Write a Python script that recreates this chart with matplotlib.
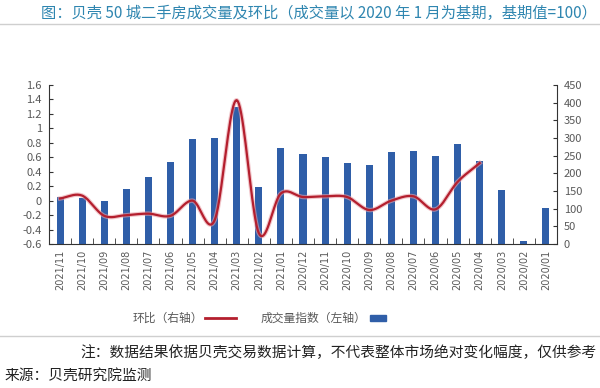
import numpy as np
import matplotlib
matplotlib.use('Agg')
import matplotlib.pyplot as plt
from matplotlib.lines import Line2D
from matplotlib.patches import Rectangle

plt.rcParams['font.family'] = ['Noto Sans CJK SC', 'DejaVu Sans']

months = ['2020/01', '2020/02', '2020/03', '2020/04', '2020/05', '2020/06',
          '2020/07', '2020/08', '2020/09', '2020/10', '2020/11', '2020/12',
          '2021/01', '2021/02', '2021/03', '2021/04', '2021/05', '2021/06',
          '2021/07', '2021/08', '2021/09', '2021/10', '2021/11']
# 成交量指数 (2020/01 = 100)
volume = [101, 9, 154, 234, 282, 248, 264, 260, 223, 230, 245, 254,
          272, 161, 389, 299, 297, 233, 191, 155, 121, 130, 133]
# 环比, starts 2020/04
mom = [0.52, 0.26, -0.12, 0.06, 0.0, -0.13, 0.05, 0.06, 0.05,
       0.10, -0.45, 1.39, -0.27, 0.0, -0.21, -0.18, -0.20, -0.21, 0.07, 0.03]
mom_start = 3

blue = '#2f5ea8'
red = '#b41f2e'
grey = '#595959'


def catmull_rom(x, y, n=20):
  # smooth curve through the points, like the spreadsheet "smoothed line"
  x = np.asarray(x, float)
  y = np.asarray(y, float)
  px = np.concatenate([[2 * x[0] - x[1]], x, [2 * x[-1] - x[-2]]])
  py = np.concatenate([[2 * y[0] - y[1]], y, [2 * y[-1] - y[-2]]])
  xs, ys = [], []
  t = np.linspace(0, 1, n, endpoint=False)
  for i in range(1, len(px) - 2):
    for p, out in ((px, xs), (py, ys)):
      p0, p1, p2, p3 = p[i - 1], p[i], p[i + 1], p[i + 2]
      out.extend(0.5 * (2 * p1 + (-p0 + p2) * t
                        + (2 * p0 - 5 * p1 + 4 * p2 - p3) * t ** 2
                        + (-p0 + 3 * p1 - 3 * p2 + p3) * t ** 3))
  xs.append(x[-1])
  ys.append(y[-1])
  return np.array(xs), np.array(ys)


fig = plt.figure(figsize=(6, 3.88), dpi=100)
ax = fig.add_axes([49 / 600, 1 - 244 / 388, 508 / 600, 159 / 388])
ax2 = ax.twinx()
x = np.arange(len(months))

# bars: volume, axis on the right (image is mirrored)
ax.bar(x, volume, width=0.32, color=blue, zorder=2)
ax.set_ylim(0, 450)
ax.set_yticks(np.arange(0, 451, 50))
ax.yaxis.tick_right()
ax.set_xlim(len(months) - 0.5, -0.5)
ax.set_xticks(x)
ax.set_xticklabels(months, rotation=90, fontsize=7, color=grey,
                   family=['DejaVu Sans'])
ax.set_xticks(np.arange(-0.5, len(months), 1), minor=True)
ax.tick_params(axis='x', which='major', length=0, pad=4)
ax.tick_params(axis='x', which='minor', direction='in', length=4, color='#333333')
ax.tick_params(axis='y', direction='in', length=3, labelsize=8,
               labelcolor=grey, color='#333333', pad=5)
for s in ['top', 'left']:
  ax.spines[s].set_visible(False)
ax.spines['bottom'].set_color('#333333')
ax.spines['right'].set_color('#333333')

# line: month-on-month, axis on the left
lx, ly = catmull_rom(x[mom_start:mom_start + len(mom)], mom)
ax2.plot(lx, ly, color='#e8a0a8', lw=3.2, alpha=0.6, zorder=3)
ax2.plot(lx, ly, color=red, lw=1.6, zorder=4)
ax2.set_ylim(-0.6, 1.6)
ax2.set_yticks(np.round(np.arange(-0.6, 1.61, 0.2), 1))
ax2.set_yticklabels(['-0.6', '-0.4', '-0.2', '0', '0.2', '0.4', '0.6', '0.8',
                     '1', '1.2', '1.4', '1.6'])
ax2.yaxis.tick_left()
ax2.tick_params(axis='y', direction='in', length=3, labelsize=8,
                labelcolor=grey, color='#333333', pad=5)
for s in ['top', 'right', 'bottom']:
  ax2.spines[s].set_visible(False)
ax2.spines['left'].set_visible(True)
ax2.spines['left'].set_color('#333333')

# title and separators
fig.text(597 / 600, 1 - 13 / 388,
         '图：贝壳 50 城二手房成交量及环比（成交量以 2020 年 1 月为基期，基期值=100）',
         ha='right', va='center', fontsize=11, color='#2f86b0')
fig.add_artist(Line2D([0, 1], [1 - 24 / 388, 1 - 24 / 388], color='#cfcfcf', lw=1))
fig.add_artist(Line2D([0, 1], [1 - 336 / 388, 1 - 336 / 388], color='#cfcfcf', lw=1))

# legend
ly0 = 1 - 318 / 388
fig.add_artist(Rectangle((370 / 600, ly0 - 3 / 388), 16 / 600, 6 / 388,
                         color=blue, transform=fig.transFigure))
fig.text(366 / 600, ly0, '成交量指数（左轴）', ha='right', va='center',
         fontsize=8.5, color=grey)
fig.add_artist(Line2D([205 / 600, 236 / 600], [ly0, ly0], color=red, lw=2))
fig.text(203 / 600, ly0, '环比（右轴）', ha='right', va='center',
         fontsize=8.5, color=grey)

# notes
fig.text(597 / 600, 1 - 353 / 388,
         '注：数据结果依据贝壳交易数据计算，不代表整体市场绝对变化幅度，仅供参考',
         ha='right', va='center', fontsize=10.6, color='#222222')
fig.text(5 / 600, 1 - 376 / 388, '来源：贝壳研究院监测',
         ha='left', va='center', fontsize=10.6, color='#222222')

fig.savefig('out.png', dpi=100)
